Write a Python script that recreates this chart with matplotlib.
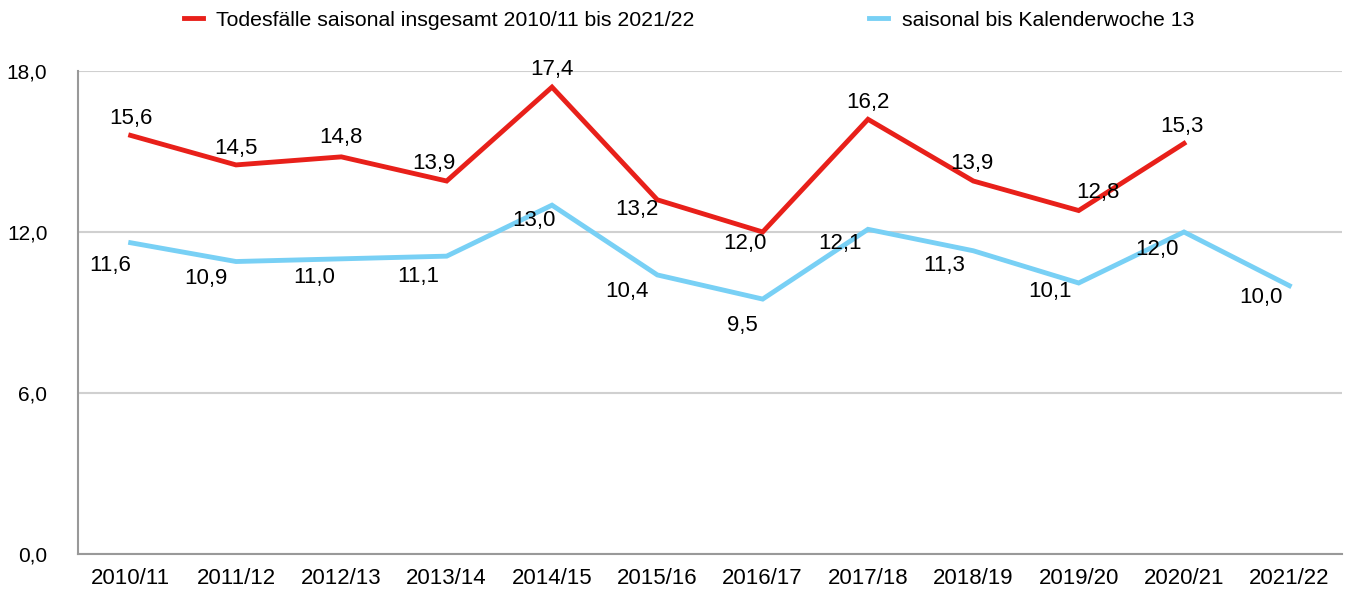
import matplotlib
matplotlib.use("Agg")
import matplotlib.pyplot as plt

plt.rcParams['font.family'] = ['Liberation Sans', 'DejaVu Sans']

categories = ["2010/11", "2011/12", "2012/13", "2013/14", "2014/15", "2015/16",
              "2016/17", "2017/18", "2018/19", "2019/20", "2020/21", "2021/22"]
total = [15.6, 14.5, 14.8, 13.9, 17.4, 13.2, 12.0, 16.2, 13.9, 12.8, 15.3]
kw13 = [11.6, 10.9, 11.0, 11.1, 13.0, 10.4, 9.5, 12.1, 11.3, 10.1, 12.0, 10.0]
yticks = [0, 6, 12, 18]

# label offsets in pixels
red_off = [(0, 17), (0, 16), (0, 19), (-13, 18), (0, 18), (-20, -10), (-18, -11),
           (0, 17), (-1, 18), (19, 18), (-2, 17)]
blue_off = [(-20, -23), (-30, -17), (-27, -19), (-28, -20), (-18, -15), (-30, -17),
            (-20, -26), (-28, -14), (-29, -15), (-29, -9), (-27, -17), (-28, -12)]

RED = "#e8201a"
BLUE = "#78d0f5"

fig = plt.figure(figsize=(13.46, 5.92), dpi=100)
ax = fig.add_axes([78/1346, 1-554/592, (1342-78)/1346, (554-71)/592])

x_red = list(range(len(total)))
x_blue = list(range(len(kw13)))
ax.plot(x_red, total, color=RED, lw=3.5, label="Todesfälle saisonal insgesamt 2010/11 bis 2021/22",
        solid_joinstyle='miter', zorder=3)
ax.plot(x_blue, kw13, color=BLUE, lw=3.5, label="saisonal bis Kalenderwoche 13",
        solid_joinstyle='miter', zorder=3)

for i, v in enumerate(total):
    ax.annotate(f"{v:.1f}".replace(".", ","), (i, v), xytext=red_off[i],
                textcoords='offset pixels', ha='center', va='center', fontsize=16, zorder=4)
for i, v in enumerate(kw13):
    ax.annotate(f"{v:.1f}".replace(".", ","), (i, v), xytext=blue_off[i],
                textcoords='offset pixels', ha='center', va='center', fontsize=16, zorder=4)

ax.set_xlim(-0.5, len(categories) - 0.5)
ax.set_ylim(0, 18)
ax.set_xticks(range(len(categories)))
ax.set_xticklabels(categories, fontsize=16)
ax.set_yticks(yticks)
ax.set_yticklabels([f"{t:.1f}".replace(".", ",") for t in yticks], fontsize=15)
ax.tick_params(axis='both', length=0)
ax.tick_params(axis='y', pad=22)
ax.tick_params(axis='x', pad=10)
ax.grid(axis='y', color='#d0d0d0', lw=1.5, zorder=0)
ax.set_axisbelow(True)
for s in ['top', 'right']:
    ax.spines[s].set_visible(False)
for s in ['left', 'bottom']:
    ax.spines[s].set_color('#999999')
    ax.spines[s].set_linewidth(1.5)

leg = ax.legend(loc='center', bbox_to_anchor=(0.5 - 21/1264, 1 + 51/483), ncol=2, frameon=False,
                fontsize=15.3, handlelength=0.9, handletextpad=0.65, columnspacing=8.2)

fig.savefig("out.png", dpi=100, facecolor='white')
